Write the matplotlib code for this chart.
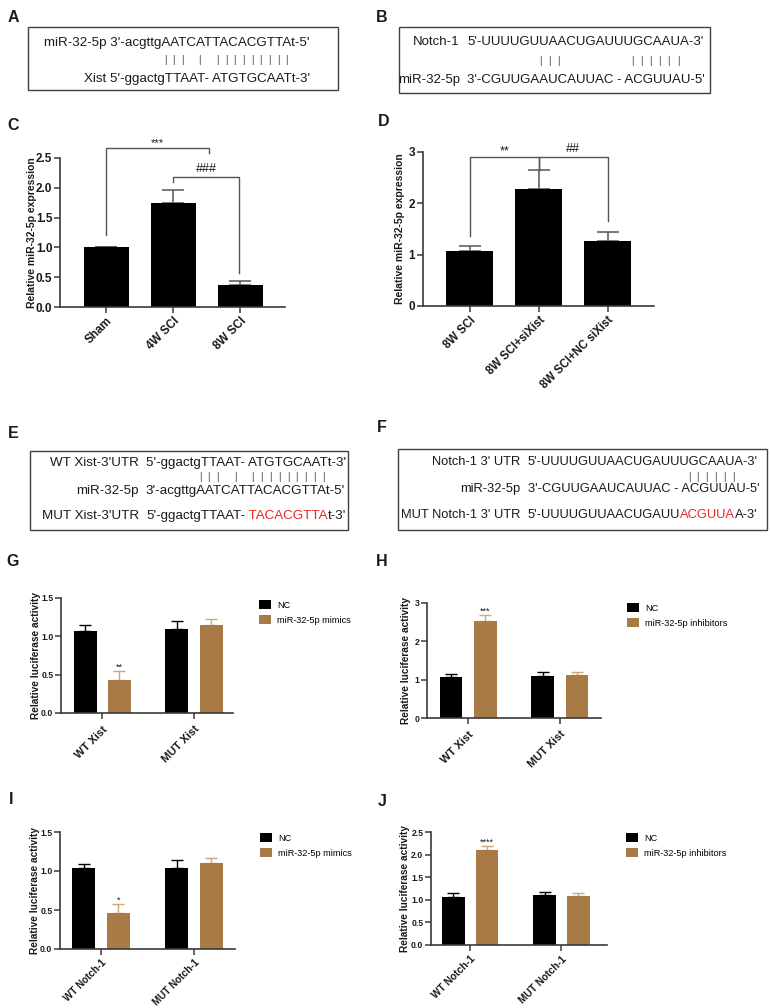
import numpy as np
import matplotlib
matplotlib.use('Agg')
import matplotlib.pyplot as plt
from matplotlib.patches import Rectangle

plt.rcParams['font.family'] = ['Liberation Sans', 'DejaVu Sans']

# ----------------------------- data -----------------------------
# Panel A
a_lines = ["miR-32-5p 3'-acgttgAATCATTACACGTTAt-5'", "Xist 5'-ggactgTTAAT- ATGTGCAATt-3'"]
a_pairs = [0, 1, 2, 4, 6, 7, 8, 9, 10, 11, 12, 13, 14]
# Panel B
b_labels = ["Notch-1", "miR-32-5p"]
b_seqs = ["5'-UUUUGUUAACUGAUUUGCAAUA-3'", "3'-CGUUGAAUCAUUAC - ACGUUAU-5'"]
b_pairs = [0, 1, 2, 10, 11, 12, 13, 14, 15]
# Panel C
c_cats = ["Sham", "4W SCI", "8W SCI"]
c_vals = [1.00, 1.75, 0.37]
c_err = [0.00, 0.22, 0.06]
# brackets: (x1, x2, y, left leg bottom, right leg bottom, label)
c_brackets = [(0, 1.54, 2.67, 1.21, 2.58, "***"), (1, 1.99, 2.18, 2.10, 0.57, "###")]
# Panel D
d_cats = ["8W SCI", "8W SCI+siXist", "8W SCI+NC siXist"]
d_vals = [1.08, 2.27, 1.27]
d_err = [0.09, 0.37, 0.18]
d_brackets = [(0, 1, 2.91, 1.36, 2.64, "**"), (1, 2, 2.91, 2.64, 1.66, "##")]
# Panel E
e_labels = ["WT Xist-3'UTR", "miR-32-5p", "MUT Xist-3'UTR"]
e_seqs = [[("5'-ggactgTTAAT- ATGTGCAATt-3'", "#1a1a1a")],
          [("3'-acgttgAATCATTACACGTTAt-5'", "#1a1a1a")],
          [("5'-ggactgTTAAT-", "#1a1a1a"), (" TACACGTTA", "#e8262a"), ("t-3'", "#1a1a1a")]]
e_pairs = [0, 1, 2, 4, 6, 7, 8, 9, 10, 11, 12, 13, 14]
# Panel F
f_labels = ["Notch-1 3' UTR", "miR-32-5p", "MUT Notch-1 3' UTR"]
f_seqs = [[("5'-UUUUGUUAACUGAUUUGCAAUA-3'", "#1a1a1a")],
          [("3'-CGUUGAAUCAUUAC - ACGUUAU-5'", "#1a1a1a")],
          [("5'-UUUUGUUAACUGAUU", "#1a1a1a"), ("ACGUUA", "#e8262a"), ("A-3'", "#1a1a1a")]]
f_pairs = [0, 1, 2, 3, 4, 5]
# Panel G
g_groups = ["WT Xist", "MUT Xist"]
g_nc = [1.06, 1.09]
g_nc_err = [0.08, 0.10]
g_tr = [0.43, 1.14]
g_tr_err = [0.115, 0.08]
g_sig = ["**", ""]
g_leg = ["NC", "miR-32-5p mimics"]
# Panel H
h_groups = ["WT Xist", "MUT Xist"]
h_nc = [1.06, 1.09]
h_nc_err = [0.10, 0.11]
h_tr = [2.53, 1.12]
h_tr_err = [0.16, 0.07]
h_sig = ["***", ""]
h_leg = ["NC", "miR-32-5p inhibitors"]
# Panel I
i_groups = ["WT Notch-1", "MUT Notch-1"]
i_nc = [1.035, 1.04]
i_nc_err = [0.05, 0.10]
i_tr = [0.465, 1.10]
i_tr_err = [0.108, 0.07]
i_sig = ["*", ""]
i_leg = ["NC", "miR-32-5p mimics"]
# Panel J
j_groups = ["WT Notch-1", "MUT Notch-1"]
j_nc = [1.06, 1.10]
j_nc_err = [0.09, 0.08]
j_tr = [2.11, 1.09]
j_tr_err = [0.07, 0.06]
j_sig = ["****", ""]
j_leg = ["NC", "miR-32-5p inhibitors"]

# ----------------------------- style -----------------------------
W, H = 770, 1008
BROWN = "#a87a45"
TAN = "#cfa676"
AX = "#3a3a3a"
TXT = "#1a1a1a"

fig = plt.figure(figsize=(W / 100, H / 100), dpi=100)
ov = fig.add_axes([0, 0, 1, 1])
ov.set_xlim(0, W)
ov.set_ylim(H, 0)
ov.axis('off')
ov.patch.set_visible(False)


def px_axes(left, top, right, bottom):
    return fig.add_axes([left / W, 1 - bottom / H, (right - left) / W, (bottom - top) / H])


def panel_label(x, y, s):
    ov.text(x, y, s, fontsize=11.5, fontweight='bold', ha='center', va='center', color=TXT)


def box(x0, y0, x1, y1):
    ov.add_patch(Rectangle((x0, y0), x1 - x0, y1 - y0, fill=False, ec="#404040", lw=1.0))


def seq_text(x, y, pieces, size):
    s0, c0 = pieces[0]
    t = ov.text(x, y, s0, color=c0, fontsize=size, ha='left', va='center')
    for s, c in pieces[1:]:
        t = ov.annotate(s, xy=(1, 0), xycoords=t, color=c, fontsize=size,
                        ha='left', va='bottom')


def pair_bars(x0, step, idx, y):
    for k in idx:
        ov.text(x0 + step * k, y, "|", fontsize=7, ha='center', va='center', color="#3c3c3c")


def style_axes(ax, ytop, yticks, ylabels, ytick_fs, xt, xlabels, xtick_fs, ylabel,
               ylab_x, ylab_fs, xlim, xpad=2):
    for s in ['top', 'right']:
        ax.spines[s].set_visible(False)
    for s in ['left', 'bottom']:
        ax.spines[s].set_color(AX)
        ax.spines[s].set_linewidth(1.2)
    ax.set_ylim(0, ytop)
    ax.set_xlim(*xlim)
    ax.set_yticks(yticks)
    ax.set_yticklabels(ylabels, fontweight='bold', fontsize=ytick_fs, color=TXT)
    ax.set_xticks(xt)
    ax.set_xticklabels(xlabels, rotation=45, ha='right', va='top', rotation_mode='anchor',
                       fontweight='bold', fontsize=xtick_fs, color=TXT)
    ax.tick_params(direction='out', length=4, width=1.1, color=AX)
    ax.tick_params(axis='y', pad=1.5)
    ax.tick_params(axis='x', pad=xpad)
    ax.set_ylabel(ylabel, fontweight='bold', fontsize=ylab_fs, color=TXT)
    bb = ax.get_position()
    ymid = H - (bb.y0 + bb.height / 2) * H
    ax.yaxis.set_label_coords(ylab_x, ymid, transform=ov.transData)
    ax.patch.set_visible(False)


def bracket(ax, x1, x2, y, yl, yr, label, fs, off):
    ax.plot([x1, x1, x2, x2], [yl, y, y, yr], color="#555555", lw=1.0, clip_on=False, zorder=4)
    ax.annotate(label, xy=((x1 + x2) / 2, y), xytext=(0, off), textcoords='offset points',
                ha='center', va='baseline', fontsize=fs, color=TXT, annotation_clip=False)


# ----------------------------- A -----------------------------
panel_label(13, 17, "A")
box(28, 27, 338, 90)
ov.text(310, 43, a_lines[0], fontsize=9.6, ha='right', va='center', color=TXT)
ov.text(310, 79, a_lines[1], fontsize=9.6, ha='right', va='center', color=TXT)
pair_bars(165, 8.7, a_pairs, 60)

# ----------------------------- B -----------------------------
panel_label(382, 17, "B")
box(399, 27, 710, 93)
for lab, seq, yy in zip(b_labels, b_seqs, [42, 80]):
    ov.text(460, yy, lab, fontsize=9.5, ha='right', va='center', color=TXT)
    ov.text(467, yy, seq, fontsize=9.5, ha='left', va='center', color=TXT)
pair_bars(540, 9.2, b_pairs, 61)

# ----------------------------- C -----------------------------
panel_label(13, 125, "C")
axc = px_axes(60, 158, 285, 307)
xc = np.arange(len(c_cats))
axc.bar(xc, c_vals, width=0.67, color='black', zorder=2)
axc.errorbar(xc, c_vals, yerr=[np.zeros(len(c_err)), c_err], fmt='none', ecolor='#555555',
             elinewidth=1.1, capsize=8, capthick=1.1, zorder=1)
style_axes(axc, 2.5, [0, 0.5, 1.0, 1.5, 2.0, 2.5], ["0.0", "0.5", "1.0", "1.5", "2.0", "2.5"], 8.5,
           xc, c_cats, 8.5, "Relative miR-32-5p expression", 37, 7.5, (-0.69, 2.67))
bracket(axc, *c_brackets[0][:5], c_brackets[0][5], 8, 1.5)
bracket(axc, *c_brackets[1][:5], c_brackets[1][5], 9, 3.5)

# ----------------------------- D -----------------------------
panel_label(384, 122, "D")
axd = px_axes(423, 152, 654, 306)
xd = np.arange(len(d_cats))
axd.bar(xd, d_vals, width=0.68, color='black', zorder=2)
axd.errorbar(xd, d_vals, yerr=[np.zeros(len(d_err)), d_err], fmt='none', ecolor='#555555',
             elinewidth=1.1, capsize=8, capthick=1.1, zorder=1)
style_axes(axd, 3, [0, 1, 2, 3], ["0", "1", "2", "3"], 8.5,
           xd, d_cats, 8.3, "Relative miR-32-5p expression", 405, 7.5, (-0.68, 2.67))
bracket(axd, *d_brackets[0][:5], d_brackets[0][5], 9, 1.8)
bracket(axd, *d_brackets[1][:5], d_brackets[1][5], 9, 3.3)

# ----------------------------- E -----------------------------
panel_label(13, 433, "E")
box(30, 451, 348, 530)
for lab, pieces, yy in zip(e_labels, e_seqs, [463, 491, 516]):
    ov.text(139, yy, lab, fontsize=9.6, ha='right', va='center', color=TXT)
    seq_text(146, yy, pieces, 9.6)
pair_bars(200, 8.8, e_pairs, 477)

# ----------------------------- F -----------------------------
panel_label(382, 428, "F")
box(398, 449, 767, 530)
for lab, pieces, yy in zip(f_labels, f_seqs, [462, 489, 515]):
    ov.text(520, yy, lab, fontsize=9.3, ha='right', va='center', color=TXT)
    seq_text(528, yy, pieces, 9.3)
pair_bars(689, 8.8, f_pairs, 477)


# ----------------------------- G-J -----------------------------
def luc_panel(rect, groups, nc, nc_err, tr, tr_err, sig, leg, ytop, yticks, ylabels,
              ylab_x, xlim, leg_xy, xfs=8.0, xpad=4):
    ax = px_axes(*rect)
    xg = np.arange(len(groups))
    b1 = ax.bar(xg - 0.185, nc, width=0.25, color='black', zorder=2, label=leg[0])
    b2 = ax.bar(xg + 0.185, tr, width=0.25, color=BROWN, zorder=2, label=leg[1])
    ax.errorbar(xg - 0.185, nc, yerr=[np.zeros(len(nc)), nc_err], fmt='none', ecolor='black',
                elinewidth=1.0, capsize=4.3, capthick=1.0, zorder=1)
    ax.errorbar(xg + 0.185, tr, yerr=[np.zeros(len(tr)), tr_err], fmt='none', ecolor=TAN,
                elinewidth=1.0, capsize=4.3, capthick=1.0, zorder=1)
    for x, v, e, s in zip(xg + 0.185, tr, tr_err, sig):
        if s:
            ax.annotate(s, xy=(x, v + e), xytext=(0, 1), textcoords='offset points',
                        ha='center', va='baseline', fontsize=6.6, color=TXT,
                        annotation_clip=False)
    style_axes(ax, ytop, yticks, ylabels, 6.2, xg, groups, xfs,
               "Relative luciferase activity", ylab_x, 7.3, xlim, xpad=xpad)
    ax.legend(handles=[b1, b2], labels=leg, loc='upper left', bbox_to_anchor=leg_xy,
              bbox_transform=ov.transData, frameon=False, fontsize=6.6, borderpad=0,
              borderaxespad=0, handlelength=1.3, handleheight=1.1, handletextpad=0.7,
              labelspacing=0.6)
    return ax


panel_label(13, 562, "G")
luc_panel((61, 597.5, 233, 713), g_groups, g_nc, g_nc_err, g_tr, g_tr_err, g_sig, g_leg,
          1.5, [0, 0.5, 1.0, 1.5], ["0.0", "0.5", "1.0", "1.5"], 41, (-0.446, 1.424), (259, 600))

panel_label(382, 562, "H")
luc_panel((427, 603, 601, 718), h_groups, h_nc, h_nc_err, h_tr, h_tr_err, h_sig, h_leg,
          3, [0, 1, 2, 3], ["0", "1", "2", "3"], 411, (-0.446, 1.446), (627, 603))

panel_label(11, 800, "I")
luc_panel((60, 832, 235, 949), i_groups, i_nc, i_nc_err, i_tr, i_tr_err, i_sig, i_leg,
          1.5, [0, 0.5, 1.0, 1.5], ["0.0", "0.5", "1.0", "1.5"], 40, (-0.44, 1.44), (260, 833),
          xfs=7.1, xpad=2)

panel_label(382, 802, "J")
luc_panel((431, 832, 607, 945), j_groups, j_nc, j_nc_err, j_tr, j_tr_err, j_sig, j_leg,
          2.5, [0, 0.5, 1.0, 1.5, 2.0, 2.5], ["0.0", "0.5", "1.0", "1.5", "2.0", "2.5"], 410,
          (-0.43, 1.5), (626, 833), xfs=7.3, xpad=2.5)

fig.savefig("out.png", dpi=100)
